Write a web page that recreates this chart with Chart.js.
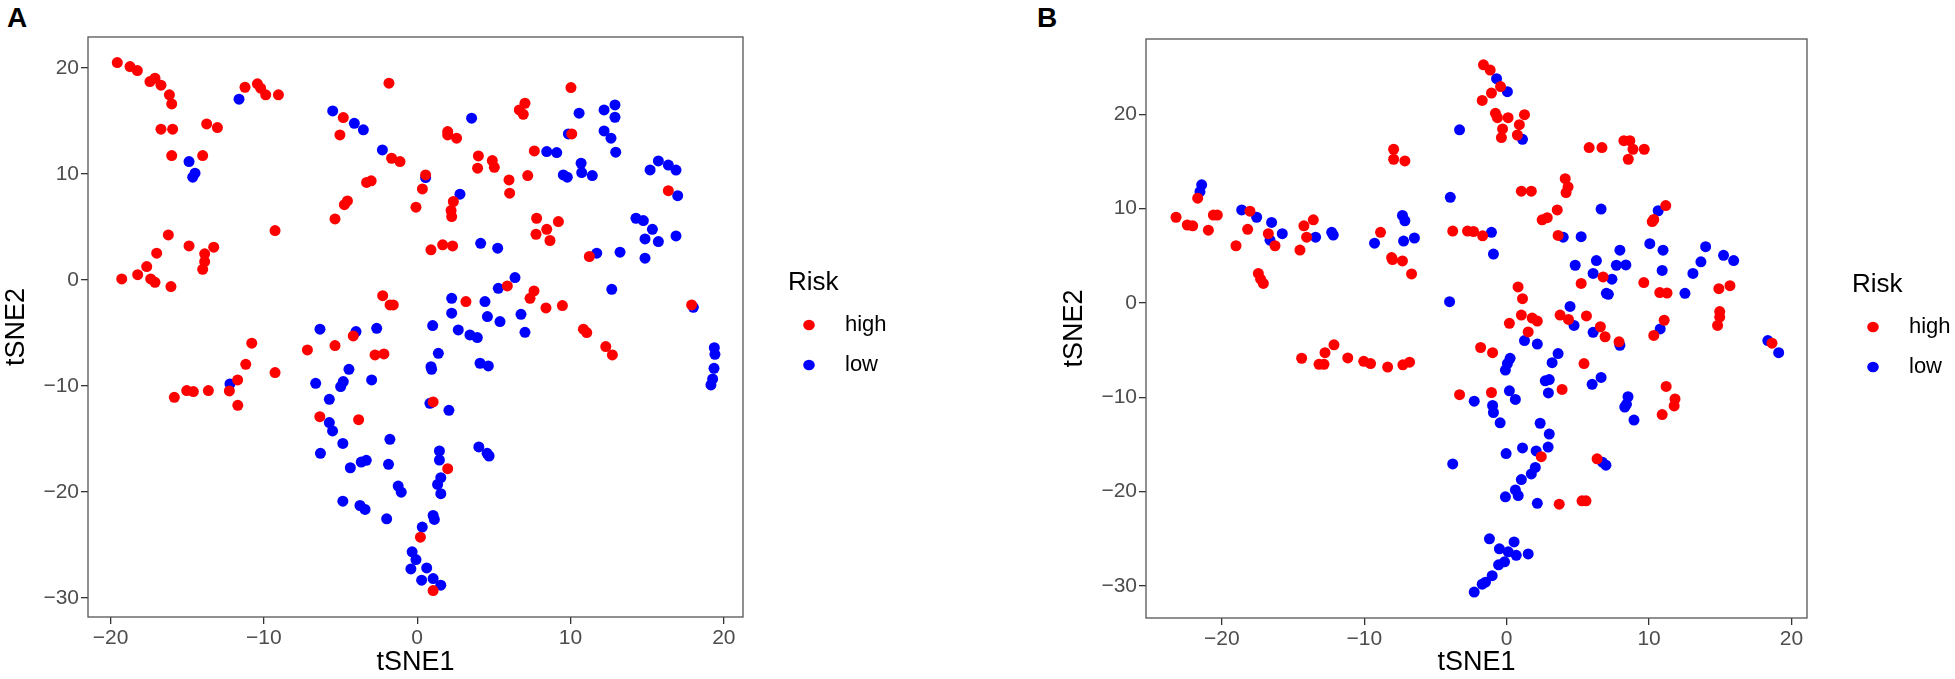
<!DOCTYPE html>
<html lang="en">
<head>
<meta charset="utf-8">
<title>tSNE Risk</title>
<script src="https://cdn.jsdelivr.net/npm/chart.js@4.4.1/dist/chart.umd.min.js"></script>
<style>
  html, body { margin: 0; padding: 0; background: #fff; }
  body { width: 1955px; height: 679px; position: relative; overflow: hidden; }
  canvas { position: absolute; top: 0; }
  #chartA { left: 0; }
  #chartB { left: 980px; }
  .panel-tag {
    position: absolute; top: 4px;
    font: bold 28px "Liberation Sans", Arial, Helvetica, sans-serif;
    line-height: 28px; color: #000;
  }
</style>
</head>
<body>
<div class="panel-tag" style="left:7px">A</div>
<div class="panel-tag" style="left:1037px">B</div>
<canvas id="chartA" width="980" height="679"></canvas>
<canvas id="chartB" width="975" height="679"></canvas>
<script>
/* ── Data: tSNE coordinates ── */
var seriesNames = ['high', 'low'];
var legendTitle = 'Risk';
var xTickValues = [-20, -10, 0, 10, 20];
var yTickValues = [-30, -20, -10, 0, 10, 20];

// panel A
var aHigh = [
  [-19.56,20.51],[-18.73,20.13],[-18.25,19.75],[-17.43,18.72],[-17.10,19.03],[-16.71,18.37],[-16.16,17.46],
  [-16.01,16.61],[-16.71,14.22],[-15.95,14.22],[-16.01,11.73],[-13.99,11.73],[-13.73,14.72],[-13.03,14.38],
  [-11.23,18.18],[-10.42,18.5],[-10.21,18.09],[-9.88,17.46],[-9.05,17.46],[-16.23,4.25],[-16.99,2.52],
  [-14.88,3.21],[-13.86,2.46],[-13.27,3.09],[-9.27,4.66],
  [-1.84,18.56],[-4.82,15.32],[-5.04,13.68],[-1.67,11.48],[-1.12,11.17],[-3.3,9.2],[-3.0,9.35],[0.55,9.91],
  [0.34,8.59],[-0.08,6.86],[-4.75,7.1],[-4.55,7.45],[-5.36,5.76],[1.99,14.0],[1.99,13.68],[2.57,13.37],
  [3.99,11.7],[3.94,10.54],[4.90,11.26],[5.03,10.63],[5.99,9.44],[6.03,8.18],[7.21,9.85],[7.64,12.17],
  [7.03,16.67],[6.66,16.04],[6.92,15.63],[10.03,18.15],[10.08,13.78],[7.79,5.82],[9.21,5.51],[8.45,4.78],
  [7.75,4.31],[8.66,3.72],[0.90,2.84],[1.66,3.31],[2.31,3.21],[11.23,2.21],[2.36,7.4],[2.21,6.55],[2.25,5.98],
  [-13.86,1.73],[-13.99,1.0],[-17.64,1.26],[-18.23,0.50],[-19.27,0.09],[-17.38,0.09],[-17.10,-0.22],
  [-16.06,-0.63],[-7.16,-6.6],[-10.79,-5.97],[-11.18,-7.96],[-11.71,-9.43],[-12.25,-10.47],[-9.27,-8.74],
  [-15.84,-11.07],[-15.03,-10.44],[-14.60,-10.53],[-13.62,-10.44],
  [-2.25,-1.48],[-1.77,-2.36],[-1.56,-2.36],[3.18,-2.04],[5.88,-0.57],[7.62,-1.04],[7.36,-1.73],[8.40,-2.64],
  [9.47,-2.42],[10.84,-4.65],[11.06,-4.97],[12.30,-6.29],[12.73,-7.07],[-4.17,-5.28],[-5.36,-6.19],
  [-2.75,-7.08],[-2.17,-6.98],
  [-11.70,-11.83],[-6.35,-12.90],[-3.82,-13.18],[1.04,-11.51],[1.99,-17.81],[0.21,-24.27],[1.04,-29.31],
  [16.38,8.42],[17.90,-2.36]
];
var aLow = [
  [-11.62,17.05],[-14.88,11.17],[-14.49,10.07],[-14.64,9.69],
  [-5.51,15.95],[-4.10,14.78],[-3.51,14.16],[-2.27,12.27],[0.55,9.66],[3.55,15.26],[10.56,15.73],[9.86,13.78],
  [8.45,12.11],[9.10,12.02],[12.19,16.04],[12.90,16.51],[12.90,15.35],[12.19,14.06],[12.64,13.37],[12.95,12.05],
  [10.69,11.01],[10.73,10.13],[11.42,9.85],[9.53,9.91],[9.79,9.69],[15.19,10.38],[15.73,11.23],[4.14,3.46],
  [5.25,3.0],[11.71,2.52],[13.23,2.62],[14.27,5.82],[14.75,5.6],[15.34,4.78],[14.86,3.87],[15.73,3.62],
  [14.86,2.05],[2.79,8.09],
  [-6.34,-4.65],[-12.21,-9.81],[-6.62,-9.75],
  [12.69,-0.88],[2.25,-1.73],[4.42,-2.04],[2.25,-3.14],[4.58,-3.46],[5.40,-3.93],[6.38,0.22],[5.29,-0.79],
  [6.77,-3.24],[7.03,-4.94],[1.01,-4.31],[2.68,-4.72],[3.44,-5.19],[3.92,-5.44],[1.38,-6.92],[0.90,-8.18],
  [0.94,-8.43],[4.10,-7.86],[4.64,-8.11],[-3.99,-4.87],[-2.64,-4.56],[-4.45,-8.43],[-4.82,-9.59],
  [-4.99,-10.06],[-2.97,-9.43],
  [-5.73,-11.26],[-5.73,-13.46],[-5.52,-14.25],[-4.85,-15.42],[-6.31,-16.36],[-1.78,-15.04],[-4.36,-17.72],
  [-3.65,-17.18],[-3.32,-17.02],[-1.87,-17.4],[-1.24,-19.45],[-1.04,-20.02],[-4.85,-20.87],[-3.73,-21.28],
  [-3.40,-21.65],[-1.99,-22.54],[0.83,-11.64],[2.07,-12.30],[1.45,-16.14],[1.45,-16.99],[1.54,-18.66],
  [1.33,-19.29],[1.54,-20.17],[1.04,-22.22],[1.12,-22.6],[4.02,-15.76],[4.56,-16.36],[4.69,-16.61],
  [0.33,-23.32],[-0.33,-25.65],[-0.08,-26.38],[-0.41,-27.26],[0.62,-27.17],[0.29,-28.33],[1.04,-28.17],
  [1.54,-28.80],
  [16.38,10.84],[16.88,10.37],[16.99,7.95],[16.88,4.15],[18.01,-2.58],[19.38,-6.39],[19.42,-7.02],
  [19.36,-8.34],[19.27,-9.34],[19.16,-9.91]
];

// panel B
var bHigh = [
  [-21.70,11.10],[-23.22,9.08],[-22.43,8.26],[-22.05,8.17],[-20.95,7.71],[-20.60,9.31],[-20.32,9.31],
  [-18.03,9.72],[-18.19,7.80],[-19.01,6.06],[-16.74,7.34],[-16.27,6.06],[-17.44,3.12],[-17.28,2.52],
  [-17.09,2.06],[-14.52,5.60],[-14.24,8.17],[-13.58,8.81],[-14.05,6.97],[-14.40,-5.87],[-13.18,-6.51],
  [-12.83,-6.51],[-12.76,-5.28],[-12.13,-4.45],
  [-1.63,25.24],[-1.16,24.69],[-0.43,22.94],[-1.07,22.25],[-1.72,21.47],[-0.79,20.1],[-0.65,19.64],
  [0.10,19.64],[1.25,19.96],[0.89,18.90],[-0.29,18.44],[-0.37,17.53],[0.75,17.80],
  [5.79,16.47],[6.69,16.47],[8.23,17.2],[8.65,17.2],[8.87,16.29],[9.66,16.29],[8.54,15.23],
  [-7.94,16.29],[-7.94,15.23],[-7.15,15.05],
  [4.11,13.17],[4.31,12.29],[4.17,11.70],[1.03,11.84],[1.73,11.84],
  [3.55,9.86],[2.49,8.81],[2.85,9.04],[11.17,10.32],[10.33,8.85],[10.22,8.62],
  [-8.86,7.48],[-3.79,7.61],[-2.75,7.61],[-2.33,7.57],[-1.69,7.11],[3.61,7.15],
  [-8.08,4.81],[-8.02,4.59],[-7.32,4.45],[-6.68,3.07],
  [0.80,1.69],[1.11,0.45],[6.77,2.75],[5.23,2.06],[9.63,2.15],[10.75,1.10],[11.26,1.05],[14.90,1.51],
  [15.68,1.83],[14.96,-0.92],[14.96,-1.52],[14.81,-2.39],[11.06,-1.84],[10.33,-3.45],[18.63,-4.27],
  [0.19,-2.16],[1.03,-1.29],[1.79,-1.61],[2.15,-1.93],[1.51,-3.08],[3.75,-1.29],[4.34,-1.75],[5.60,-1.38],
  [6.58,-2.53],[6.91,-3.59],[7.89,-4.13],
  [-11.16,-5.83],[-10.04,-6.20],[-9.56,-6.43],[-8.36,-6.80],[-7.29,-6.57],[-6.82,-6.29],
  [-1.83,-4.73],[-0.99,-5.28],[5.43,-6.43],[3.89,-9.18],[-3.31,-9.73],[-1.07,-9.50],
  [11.20,-8.86],[11.82,-10.19],[11.76,-10.93],[10.92,-11.84],
  [2.43,-16.30],[6.35,-16.53],[3.69,-21.34],[5.29,-20.98],[5.57,-20.98]
];
var bLow = [
  [-21.42,12.52],[-21.54,11.79],[-18.61,9.86],[-17.56,9.08],[-16.51,8.53],[-16.62,6.65],[-15.76,7.34],
  [-13.42,6.97],[-12.29,7.48],[-12.18,7.20],
  [-0.71,23.77],[0.05,22.39],[1.11,17.34],[-3.31,18.35],[-3.96,11.19],[6.63,9.95],[10.64,9.77],[-7.32,9.27],
  [-7.15,8.71],[-9.28,6.33],[-7.24,6.56],[-6.48,6.88],[-1.07,7.48],[-0.93,5.18],[3.97,6.97],[5.23,7.02],
  [-4.01,0.13],[4.81,3.99],[6.30,4.49],[6.07,3.12],[7.39,2.52],[7.95,5.59],[7.70,3.99],[8.37,4.03],
  [7.0,1.01],[7.14,0.91],[10.05,6.28],[10.98,5.59],[10.92,3.44],[12.52,1.01],[13.08,3.12],[13.64,4.36],
  [13.97,5.96],[15.23,5.04],[15.94,4.49],[10.78,-2.76],[18.34,-3.99],[19.1,-5.28],
  [1.25,-3.99],[2.15,-4.36],[4.45,-0.37],[4.73,-2.39],[6.07,-3.12],[7.95,-4.50],
  [0.24,-5.88],[0.05,-6.43],[-0.09,-7.12],[3.61,-5.37],[3.19,-6.34],[2.99,-8.13],[2.71,-8.26],[2.93,-9.55],
  [6.63,-7.90],[6.0,-8.63],
  [-2.28,-10.42],[0.19,-9.32],[0.61,-10.24],[-0.99,-10.88],[-0.93,-11.62],[-0.46,-12.72],
  [8.52,-9.95],[8.41,-10.75],[8.29,-11.05],[8.94,-12.42],
  [2.35,-12.76],[2.99,-13.91],[2.91,-15.29],[1.11,-15.38],[-0.04,-15.97],[2.07,-15.70],[-3.79,-17.08],
  [6.72,-16.89],[6.97,-17.21],[2.01,-17.44],[1.73,-18.13],[1.03,-18.73],[0.61,-19.83],[0.81,-20.43],
  [-0.09,-20.56],[2.15,-21.25],
  [-1.21,-25.02],[0.52,-25.34],[-0.51,-26.07],[0.11,-26.39],[0.67,-26.76],[1.51,-26.62],[-0.15,-27.45],
  [-0.57,-27.77],[-1.02,-28.92],[-1.49,-29.61],[-1.72,-29.83],[-2.28,-30.66]
];

var xRangeA = [-21.47, 21.25];
var yRangeA = [-31.8, 22.92];
var xRangeB = [-25.33, 21.09];
var yRangeB = [-33.41, 27.98];

(function () {
  'use strict';

  var FONT = '"Liberation Sans", Arial, Helvetica, sans-serif';
  var RED = '#FF0000';
  var BLUE = '#0000FF';

  function fmtTick(v) {
    return v < 0 ? '\u2212' + Math.abs(v) : String(v);
  }

  function toPoints(arr) {
    return arr.map(function (p) { return { x: p[0], y: p[1] }; });
  }

  /* ── box around the panel, like theme_bw ── */
  var framePlugin = {
    id: 'panelFrame',
    afterDatasetsDraw: function (chart) {
      var a = chart.chartArea;
      var ctx = chart.ctx;
      ctx.save();
      ctx.strokeStyle = '#555555';
      ctx.lineWidth = 1.3;
      ctx.strokeRect(a.left, a.top, a.right - a.left, a.bottom - a.top);
      ctx.restore();
    }
  };

  /* ── ggplot-style legend to the right of the panel ── */
  var riskLegendPlugin = {
    id: 'riskLegend',
    afterDraw: function (chart) {
      var a = chart.chartArea;
      var ctx = chart.ctx;
      ctx.save();
      ctx.textBaseline = 'middle';
      ctx.textAlign = 'left';
      ctx.fillStyle = '#000';
      ctx.font = '26px ' + FONT;
      ctx.fillText(legendTitle, a.right + 45, a.top + 246);
      chart.data.datasets.forEach(function (ds, i) {
        var y = a.top + 288 + i * 40;
        ctx.fillStyle = ds.backgroundColor;
        ctx.beginPath();
        ctx.ellipse(a.right + 66, y, 5.8, 5.3, 0, 0, Math.PI * 2);
        ctx.fill();
        ctx.fillStyle = '#000';
        ctx.font = '22px ' + FONT;
        ctx.fillText(ds.label, a.right + 102, y);
      });
      ctx.restore();
    }
  };

  function axisOpts(range, ticks, titleText, isX, fitSize) {
    var o = {
      type: 'linear',
      min: range[0],
      max: range[1],
      afterBuildTicks: function (s) {
        s.ticks = ticks.map(function (v) { return { value: v }; });
      },
      grid: { drawOnChartArea: false, drawTicks: true, tickLength: 7, color: '#333333', lineWidth: 1.3 },
      border: { display: false },
      ticks: {
        color: '#4D4D4D',
        font: { size: 21, family: FONT },
        padding: 2,
        maxRotation: 0,
        autoSkip: false,
        callback: fmtTick
      },
      title: {
        display: true,
        text: titleText,
        color: '#000',
        font: { size: 27, family: FONT },
        padding: { top: 0, bottom: 0 }
      }
    };
    if (isX) {
      o.afterFit = function (s) { s.height = fitSize; };
    } else {
      o.afterFit = function (s) { s.width = fitSize; };
    }
    return o;
  }

  function buildPanel(canvasId, high, low, xRange, yRange, pad, xAxisHeight) {
    var el = document.getElementById(canvasId);
    return new Chart(el, {
      type: 'scatter',
      data: {
        datasets: [
          {
            label: seriesNames[0],
            data: toPoints(high),
            backgroundColor: RED,
            borderWidth: 0,
            pointRadius: 5.5,
            pointHoverRadius: 5.5
          },
          {
            label: seriesNames[1],
            data: toPoints(low),
            backgroundColor: BLUE,
            borderWidth: 0,
            pointRadius: 5.5,
            pointHoverRadius: 5.5
          }
        ]
      },
      options: {
        responsive: false,
        animation: false,
        events: [],
        layout: { autoPadding: false, padding: pad },
        plugins: {
          legend: { display: false },
          tooltip: { enabled: false }
        },
        scales: {
          x: axisOpts(xRange, xTickValues, 'tSNE1', true, xAxisHeight),
          y: axisOpts(yRange, yTickValues, 'tSNE2', false, 88)
        }
      },
      plugins: [framePlugin, riskLegendPlugin]
    });
  }

  function init() {
    if (typeof Chart === 'undefined') return;
    Chart.defaults.font.family = FONT;
    buildPanel('chartA', aHigh, aLow, xRangeA, yRangeA, { left: 0, right: 237, top: 37, bottom: 0 }, 62);
    buildPanel('chartB', bHigh, bLow, xRangeB, yRangeB, { left: 78, right: 148, top: 39, bottom: 0 }, 61);
  }

  init();
})();
</script>
</body>
</html>
